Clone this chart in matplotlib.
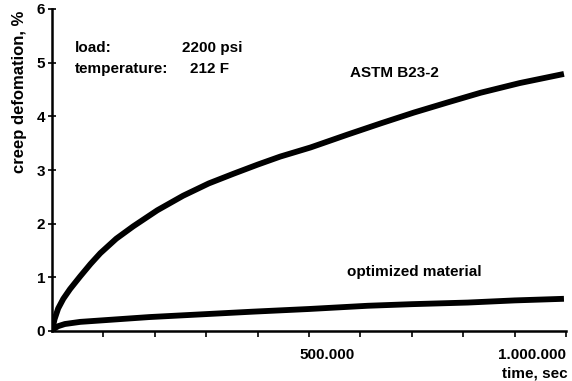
import matplotlib
matplotlib.use('Agg')
import matplotlib.pyplot as plt
import matplotlib.transforms as mtransforms

# values
time_astm = [0, 5000, 12000, 22000, 35000, 55000, 75000, 94000, 125000, 158000,
             205000, 255000, 305000, 353000, 400000, 444000, 503000, 575000,
             640000, 704000, 770000, 834000, 910000, 996000]
creep_astm = [0, 0.22, 0.42, 0.6, 0.78, 1.02, 1.25, 1.45, 1.72, 1.95,
              2.25, 2.52, 2.75, 2.93, 3.1, 3.25, 3.42, 3.66,
              3.87, 4.07, 4.26, 4.44, 4.62, 4.79]

time_opt = [0, 5000, 12000, 25000, 55000, 100000, 190000, 290000, 390000,
            500000, 614000, 700000, 809000, 900000, 996000]
creep_opt = [0, 0.05, 0.09, 0.13, 0.17, 0.2, 0.26, 0.31, 0.36,
             0.41, 0.47, 0.5, 0.53, 0.57, 0.6]

y_ticks = [0, 1, 2, 3, 4, 5, 6]
x_label_ticks = [500000, 1000000]
x_label_text = ['500.000', '1.000.000']
x_minor_ticks = [100000, 200000, 300000, 400000, 600000, 700000, 800000, 900000]

plt.rcParams['font.family'] = ['Liberation Sans', 'DejaVu Sans']
plt.rcParams['font.weight'] = 'bold'

fig = plt.figure(figsize=(5.72, 3.81), dpi=100)
ax = fig.add_axes([52 / 572, 50 / 381, 514 / 572, 322 / 381])

line_kw = dict(color='black', lw=4.2, solid_capstyle='butt', solid_joinstyle='round')
ax.plot(time_astm, creep_astm, **line_kw)
ax.plot(time_opt, creep_opt, **line_kw)

ax.set_xlim(0, 1000000)
ax.set_ylim(0, 6)

for side in ['top', 'right']:
    ax.spines[side].set_visible(False)
for side in ['left', 'bottom']:
    ax.spines[side].set_linewidth(1.8)

ax.set_yticks(y_ticks)
ax.set_yticklabels([str(v) for v in y_ticks], fontsize=11, fontweight='bold')
ax.tick_params(axis='y', direction='inout', length=6, width=1.2, pad=2)

ax.set_xticks(x_label_ticks)
ax.set_xticklabels(x_label_text, fontsize=11, fontweight='bold')
ax.set_xticks(x_minor_ticks, minor=True)
ax.tick_params(axis='x', which='both', direction='out', length=4, width=1.2, pad=8)

# shift the x tick labels as in the original
offsets = [18, -34]
for lab, dx in zip(ax.get_xticklabels(), offsets):
    lab.set_transform(lab.get_transform() +
                      mtransforms.ScaledTranslation(dx / 100, 0, fig.dpi_scale_trans))

fig.text(20 / 572, 1 - 92 / 381, 'creep defomation, %', rotation=90,
         ha='center', va='center', fontsize=12, fontweight='bold')
fig.text(568 / 572, 1 - 373 / 381, 'time, sec', ha='right', va='center',
         fontsize=11, fontweight='bold')

txt = dict(transform=ax.transAxes, fontsize=11, fontweight='bold', va='center')
ax.text((75 - 52) / 514, (331 - 48) / 322, 'load:', **txt)
ax.text((182 - 52) / 514, (331 - 48) / 322, '2200 psi', **txt)
ax.text((75 - 52) / 514, (331 - 69) / 322, 'temperature:', **txt)
ax.text((190 - 52) / 514, (331 - 69) / 322, '212 F', **txt)
ax.text((350 - 52) / 514, (331 - 73) / 322, 'ASTM B23-2', **txt)
ax.text((347 - 52) / 514, (331 - 272) / 322, 'optimized material', **txt)

fig.savefig('out.png', dpi=100)
